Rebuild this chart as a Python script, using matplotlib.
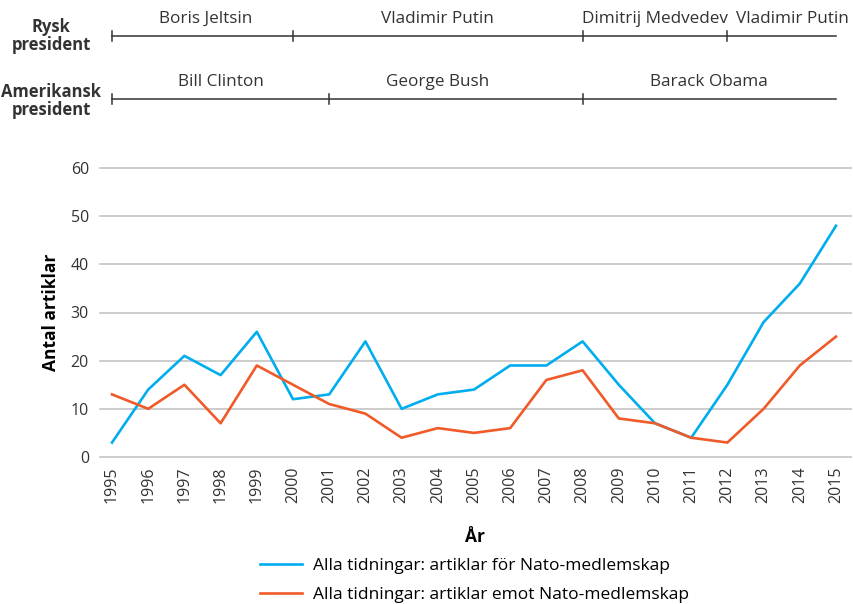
import matplotlib.pyplot as plt

plt.rcParams['font.family'] = ['Open Sans', 'DejaVu Sans']

years = list(range(1995, 2016))
for_nato = [3, 14, 21, 17, 26, 12, 13, 24, 10, 13, 14, 19, 19, 24, 15, 7, 4, 15, 28, 36, 48]
against_nato = [13, 10, 15, 7, 19, 15, 11, 9, 4, 6, 5, 6, 16, 18, 8, 7, 4, 3, 10, 19, 25]

# presidents: (name, start, end, label position)
rus_pres = [("Boris Jeltsin", 1995, 2000, 1997.6),
            ("Vladimir Putin", 2000, 2008, 2004.0),
            ("Dimitrij Medvedev", 2008, 2012, 2010.0),
            ("Vladimir Putin", 2012, 2015, 2013.8)]
us_pres = [("Bill Clinton", 1995, 2001, 1998.0),
           ("George Bush", 2001, 2008, 2004.0),
           ("Barack Obama", 2008, 2015, 2011.5)]

blue = "#00adee"
orange = "#f05a28"
W, H = 854, 604
fig = plt.figure(figsize=(W / 100, H / 100), dpi=100)

x0, x1 = 100, 851
ax = fig.add_axes([x0 / W, (H - 457) / H, (x1 - x0) / W, (457 - 168) / H])
xlim = (1995 - 12 / 36.2, 2015 + 15 / 36.2)

ax.plot(years, for_nato, color=blue, lw=1.9, label="Alla tidningar: artiklar för Nato-medlemskap")
ax.plot(years, against_nato, color=orange, lw=1.9, label="Alla tidningar: artiklar emot Nato-medlemskap")
ax.set_xlim(*xlim)
ax.set_ylim(0, 60)
ax.set_yticks(range(0, 61, 10))
ax.set_xticks(years)
ax.set_xticklabels([str(y) for y in years], rotation=90, fontsize=11.5, color="#333333")
ax.tick_params(axis='y', labelsize=11.5, labelcolor="#333333", length=0, pad=8)
ax.tick_params(axis='x', length=0, pad=7)
ax.grid(axis='y', color="#c8c8c8", lw=1.3, clip_on=False)
ax.set_axisbelow(True)
for s in ax.spines.values():
    s.set_visible(False)
ax.set_ylabel("Antal artiklar", fontsize=12.5, fontweight='bold', labelpad=8)
ax.set_xlabel("År", fontsize=12.5, fontweight='bold', labelpad=18)
ax.legend(loc='upper left', bbox_to_anchor=(153 / (x1 - x0), -0.325), frameon=False,
          fontsize=12.5, handlelength=2.4, handletextpad=0.65, labelspacing=0.75,
          borderaxespad=0)

# timeline panel on top
tax = fig.add_axes([x0 / W, (H - 130) / H, (x1 - x0) / W, 130 / H])
tax.set_xlim(*xlim)
tax.set_ylim(130, 0)
tax.axis('off')


def draw_row(pres, y):
    tax.plot([pres[0][1], pres[-1][2]], [y, y], color="#333333", lw=1.1)
    ticks = [pres[0][1]] + [p[1] for p in pres[1:]]
    for t in ticks:
        tax.plot([t, t], [y - 5, y + 5], color="#333333", lw=1.1)
    for name, s, e, lx in pres:
        tax.text(lx, y - 9, name, ha='center', va='bottom', fontsize=12.3, color="#333333")


draw_row(rus_pres, 36)
draw_row(us_pres, 99)

fig.text(51 / W, 1 - 36 / H, "Rysk\npresident", ha='center', va='center',
         fontsize=12, fontweight='bold', color="#333333", linespacing=1.0)
fig.text(51 / W, 1 - 101 / H, "Amerikansk\npresident", ha='center', va='center',
         fontsize=12, fontweight='bold', color="#333333", linespacing=1.0)

fig.savefig("out.png", dpi=100)
